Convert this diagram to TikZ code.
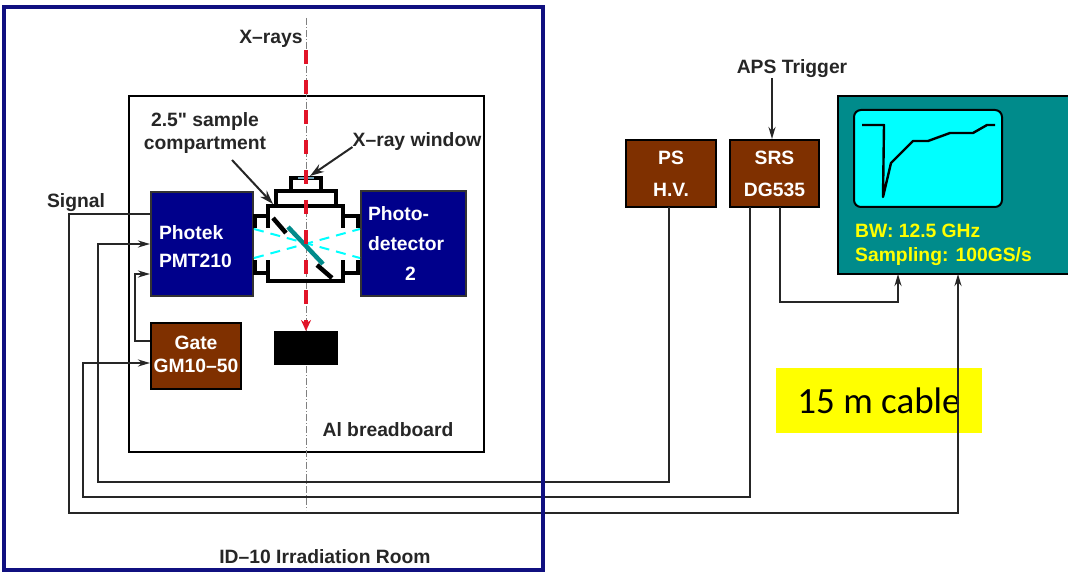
\documentclass[tikz,border=0pt]{standalone}
\usepackage{xcolor}
\usepackage{fontspec}
\setmainfont{Liberation Sans}
\newfontfamily\calibrifont{Carlito}
\usetikzlibrary{arrows.meta,positioning}
\definecolor{pmtblue}{RGB}{0,0,139}
\definecolor{boxbrown}{RGB}{127,48,0}
\definecolor{scopeteal}{RGB}{0,139,139}
\definecolor{roomblue}{RGB}{16,16,128}
\definecolor{screencyan}{RGB}{0,255,255}
\definecolor{textyellow}{RGB}{255,255,0}
\definecolor{beamred}{RGB}{225,20,40}

\begin{document}
\begin{tikzpicture}[x=1pt,y=-1pt,font=\fontsize{19.3}{23}\selectfont\bfseries,
  blue box/.style={draw=black!80, line width=2pt, fill=pmtblue, text=white, align=left, inner sep=0pt},
  brown box/.style={draw=black, line width=2pt, fill=boxbrown, text=white, align=center, inner sep=0pt},
  frame/.style={draw=black, line width=2pt, inner sep=0pt},
  label/.style={inner sep=0pt, align=center, text=black!85},
  wire/.style={line width=2pt, black!85},
  arr/.style={wire, -{Stealth[length=12pt,width=7pt]}},
  part/.style={line width=3.4pt, black},
  beam/.style={screencyan, line width=2pt, dash pattern=on 10pt off 7pt}]
\useasboundingbox (0,0) rectangle (1068,572);
% frames
\node[frame, minimum width=355pt, minimum height=356pt] (board) at (306.5,274) {};
\draw[gray, line width=1pt, dash pattern=on 7pt off 2pt on 1pt off 2pt] (306,18) -- (306,510);
\coordinate (xin) at (306,50);
\node[frame, minimum width=62pt, minimum height=32pt, fill=black] (stop) at (306,348) {};
\node[blue box, minimum width=102pt, minimum height=104pt, text width=86pt] (pmt) at (202,244) {\rule{0pt}{20pt}Photek\\[5pt]PMT210};
\node[blue box, minimum width=105pt, minimum height=105pt, text width=91pt] (det) at (413.5,243.5) {Photo-\\[7pt]detector\\[7pt]\hspace*{37pt}2};
\node[brown box, minimum width=90pt, minimum height=66pt] (gate) at (196,356) {Gate\\GM10--50\rule[-4pt]{0pt}{4pt}};
\node[brown box, minimum width=90pt, minimum height=67pt] (ps) at (671,173.5) {PS\\[9pt]H.V.};
\node[brown box, minimum width=89pt, minimum height=67pt] (srs) at (774.5,173.5) {SRS\\[9pt]DG535};
\node[brown box, fill=scopeteal, minimum width=232pt, minimum height=178pt] (scope) at (954,185) {};
\node[draw=black, line width=2pt, fill=screencyan, rounded corners=7pt, minimum width=148pt, minimum height=97pt, inner sep=0pt] (screen) at (928,158.5) {};
\node[label, text=textyellow, align=left, anchor=west] (specs) at (855,245) {BW: 12.5 GHz\\[1pt]Sampling: 100GS/s};
\node[fill=textyellow, minimum width=206pt, minimum height=65pt, inner sep=0pt, font=\calibrifont\fontsize{37}{40}\selectfont] (cable) at (879,400.5) {15 m cable};
% labels
\node[label] (xrays) at (271,39) {X--rays};
\node[label] (sample) at (205,133) {2.5\textquotedbl\ sample\\compartment};
\node[label] (window) at (417,142) {X--ray window};
\node[label] (signal) at (76,203) {Signal};
\node[label] (albb) at (388,430) {Al breadboard};
\node[label] (room) at (325,557) {ID--10 Irradiation Room};
\node[label] (aps) at (792,69) {APS Trigger};
% compartment
\draw[part, fill=white] (291,191) -- (291,178) -- (321,178) -- (321,191);
\draw[part, fill=white] (276,206) -- (276,191) -- (336,191) -- (336,206);
\draw[part] (268,228) -- (268,206) -- (343,206) -- (343,228);
\draw[part] (268,260) -- (268,281) -- (343,281) -- (343,260);
\draw[part] (255,228) -- (255,216) -- (268,216);
\draw[part] (255,260) -- (255,273) -- (268,273);
\draw[part] (358,228) -- (358,216) -- (343,216);
\draw[part] (358,260) -- (358,273) -- (343,273);
\draw[line width=2.5pt, cyan!40!gray] (298,178) -- (314,178);
\draw[beam] (pmt.east |- 0,229) -- (det.west |- 0,258);
\draw[beam] (pmt.east |- 0,258) -- (det.west |- 0,229);
\draw[line width=4.5pt] (273,218) -- (286,233);
\draw[line width=4.5pt, scopeteal] (288,227) -- (323,264);
\draw[line width=4.5pt] (317,265) -- (332,278);
% beam
\draw[beamred, line width=4pt, dash pattern=on 14pt off 16pt, -{Stealth[length=11pt,width=10pt]}] (xin) -- (stop.north);
% pointers
\draw[wire, -{Stealth[length=14pt,width=9pt]}] (window.west |- 0,147) -- (310,176);
\draw[wire, -{Stealth[length=14pt,width=9pt]}] (232,160) -- (273,204);
% cables
\draw[arr] (pmt.west |- 0,214) -- (69,214) -- (69,513) -- (958,513) -- (958,274);
\draw[arr] (669,207) -- (669,482) -- (98,482) -- (98,244) -- (pmt.west |- 0,244);
\draw[arr] (750,207) -- (750,497) -- (83,497) -- (83,363) -- (gate.west |- 0,363);
\draw[arr] (gate.west |- 0,341) -- (135,341) -- (135,274) -- (pmt.west |- 0,274);
\draw[arr] (780,207) -- (780,302) -- (898,302) -- (898,274);
\draw[arr] (772,78) -- (srs.north -| 772,0);
% trace
\draw[line width=2.4pt, line join=round] (862,125) -- (884,125) -- (883,197) -- (891,163) -- (913,141) -- (928,141) -- (950,133) -- (973,133) -- (987,125) -- (995,125);
\node[draw=roomblue, line width=4pt, minimum width=539pt, minimum height=563pt, inner sep=0pt] (irradroom) at (273.5,288.5) {};
\end{tikzpicture}
\end{document}
